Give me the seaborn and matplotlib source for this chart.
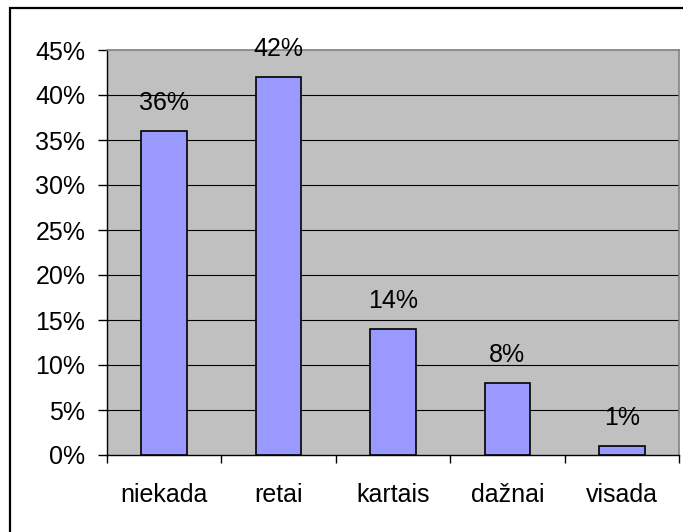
import pandas as pd
import seaborn as sns
import matplotlib.pyplot as plt
from matplotlib.patches import Rectangle

# data
categories = ["niekada", "retai", "kartais", "dažnai", "visada"]
shares = [36, 42, 14, 8, 1]
y_ticks = list(range(0, 50, 5))
y_labels = [f"{t}%" for t in y_ticks]

df = pd.DataFrame({"category": categories, "share": shares})

sns.set_style("white")
plt.rcParams["font.family"] = ["Liberation Sans", "DejaVu Sans"]
plt.rcParams["text.color"] = "black"
plt.rcParams["xtick.color"] = "black"
plt.rcParams["ytick.color"] = "black"

fig = plt.figure(figsize=(6.83, 5.32), dpi=100)
ax = fig.add_axes([107 / 683, 77 / 532, 572 / 683, 405 / 532])
ax.set_facecolor("#C0C0C0")

sns.barplot(x="category", y="share", data=df, color="#9999FF", width=0.4,
            edgecolor="black", linewidth=1.2, saturation=1, ax=ax, zorder=3)

# value labels above the bars
for i, v in enumerate(shares):
    ax.annotate(f"{v}%", (i, v), xytext=(0, 21), textcoords="offset pixels",
                ha="center", va="baseline", fontsize=18, color="black", zorder=4)

ax.set_ylim(0, 45)
ax.set_xlim(-0.5, len(categories) - 0.5)
ax.set_yticks(y_ticks)
ax.set_yticklabels(y_labels)

# ticks between categories, labels in the middle
ax.set_xticks([i - 0.5 for i in range(len(categories) + 1)])
ax.set_xticklabels([])
ax.set_xticks(range(len(categories)), minor=True)
ax.set_xticklabels(categories, minor=True)
ax.tick_params(axis="x", which="major", direction="out", length=6, width=1, color="black", bottom=True)
ax.tick_params(axis="x", which="minor", length=0, pad=20, labelsize=18, labelcolor="black")
ax.tick_params(axis="y", direction="out", length=6.5, width=1, color="black", left=True, pad=9,
               labelsize=18, labelcolor="black")

# horizontal grid
for t in y_ticks[1:-1]:
    ax.axhline(t, color="black", linewidth=0.8, zorder=1)

ax.set_xlabel("")
ax.set_ylabel("")
for side in ["left", "bottom"]:
    ax.spines[side].set_color("black")
    ax.spines[side].set_linewidth(1)
for side in ["top", "right"]:
    ax.spines[side].set_color("#808080")
    ax.spines[side].set_linewidth(1.2)

# outer chart border (left and top edges visible)
fig.patches.append(Rectangle((10 / 683, -0.1), 1.2, 1.1 - 8 / 532, transform=fig.transFigure,
                             fill=False, edgecolor="black", linewidth=1.6))

fig.savefig("out.png", dpi=100)
